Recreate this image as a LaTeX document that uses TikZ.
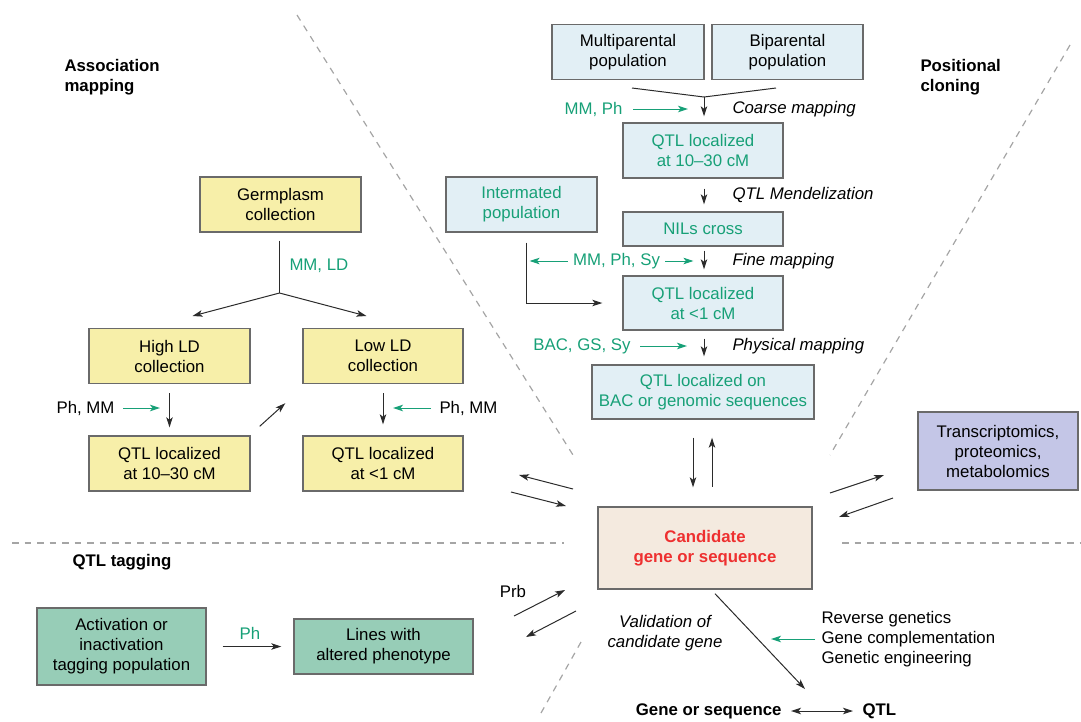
\documentclass[tikz,border=0pt]{standalone}
\usepackage{fontspec}
\setmainfont{Liberation Sans}
\usetikzlibrary{arrows.meta}

\definecolor{bluefill}{HTML}{E2EFF5}
\definecolor{yelfill}{HTML}{F7EFA9}
\definecolor{lilfill}{HTML}{C4C6E7}
\definecolor{candfill}{HTML}{F4EADF}
\definecolor{tagfill}{HTML}{97CDB7}
\definecolor{mgreen}{HTML}{17A077}
\definecolor{candred}{HTML}{EE3030}
\definecolor{boxline}{HTML}{6A6A6A}
\definecolor{arr}{HTML}{2B2B2B}
\definecolor{sepgray}{HTML}{A5A5A5}
\newcommand{\fs}{\fontsize{16.8}{20}\selectfont}

\tikzset{
  box/.style={draw=boxline, line width=1.4pt, align=center, inner sep=0pt, font=\fs},
  bbox/.style={box, fill=bluefill},
  ybox/.style={box, fill=yelfill, minimum width=161pt, minimum height=55pt},
  lbl/.style={inner sep=0pt, font=\fs},
  glbl/.style={lbl, text=mgreen},
  ilbl/.style={lbl, font=\fs\itshape},
  hd/.style={lbl, font=\fs\bfseries, align=left},
  sepline/.style={draw=sepgray, line width=1.2pt, dash pattern=on 6.5pt off 6pt},
  garrow/.style={->, draw=mgreen},
}

\begin{document}
\begin{tikzpicture}[x=1pt,y=-1pt,>={Stealth[length=10pt,width=6.5pt,inset=2.5pt]},line width=1pt,draw=arr]
    \useasboundingbox (0,0) rectangle (1081,721);

    % dashed separators
    \draw[sepline](297,15)--(573,455);
    \draw[sepline](1070,45)--(830,455);
    \draw[sepline](12,543)--(564,543);
    \draw[sepline](842,543)--(1081,543);
    \draw[sepline](581,642)--(541,713);

    % headings
    \node[hd,anchor=west](hAssoc) at (64,77){Association\\mapping};
    \node[hd,anchor=west](hPos) at (920,77){Positional\\cloning};
    \node[hd,anchor=west](hTag) at (72,562){QTL tagging};

    % positional cloning
    \node[bbox,minimum width=152pt,minimum height=55pt](multi) at (628,52){Multiparental\\population};
    \node[bbox,minimum width=151pt,minimum height=55pt](bipar) at (787.5,52){Biparental\\population};
    \node[bbox,text=mgreen,minimum width=160pt,minimum height=55pt](qtlA) at (703,150.5){QTL localized\\at 10--30 cM};
    \node[bbox,text=mgreen,minimum width=151pt,minimum height=55pt](inter) at (521.5,204.5){Intermated\\population};
    \node[bbox,text=mgreen,minimum width=160pt,minimum height=34pt](nils) at (703,229){NILs cross};
    \node[bbox,text=mgreen,minimum width=160pt,minimum height=54pt](qtlB) at (703,303){QTL localized\\at <1 cM};
    \node[bbox,text=mgreen,minimum width=222pt,minimum height=54pt](bac) at (703,392){QTL localized on\\BAC or genomic sequences};

    \coordinate(mjoin) at (704,97);
    \draw(632,88)--(mjoin)--(776,88);
    \draw[->,shorten >=6pt](mjoin)--(mjoin|-qtlA.north);
    \node[glbl,anchor=east](gCoarse) at (623,109){MM, Ph};
    \draw[garrow]([xshift=10pt]gCoarse.east)--++(55,0);
    \node[ilbl,anchor=west](lCoarse) at (732,109){Coarse mapping};

    \draw[->,shorten <=10pt,shorten >=7pt]([xshift=1pt]qtlA.south)--([xshift=1pt]nils.north);
    \node[ilbl,anchor=west](lMend) at (732,195){QTL Mendelization};

    \draw[->,shorten <=4pt,shorten >=6pt]([xshift=1pt]nils.south)--([xshift=1pt]qtlB.north);
    \node[glbl](gFine) at (616.5,261){MM, Ph, Sy};
    \draw[garrow]([xshift=5pt]gFine.east)--++(28,0);
    \draw[garrow]([xshift=-5pt]gFine.west)--++(-38,0);
    \node[ilbl,anchor=west](lFine) at (732,261){Fine mapping};
    \draw[->]([xshift=4.5pt,yshift=-10pt]inter.south)|-([xshift=-20pt]qtlB.west);

    \draw[->,shorten <=8pt,shorten >=8pt]([xshift=1pt]qtlB.south)--([xshift=1pt]bac.north);
    \node[glbl,anchor=east](gPhys) at (631,346){BAC, GS, Sy};
    \draw[garrow]([xshift=9pt]gPhys.east)--++(47,0);
    \node[ilbl,anchor=west](lPhys) at (732,346){Physical mapping};

    % association mapping
    \node[ybox](germ) at (280.5,204.5){Germplasm\\collection};
    \node[ybox](high) at (169.5,356){High LD\\collection};
    \node[ybox,minimum width=160pt](low) at (383,356){Low LD\\collection};
    \node[ybox](qtlC) at (169.5,463.5){QTL localized\\at 10--30 cM};
    \node[ybox,minimum width=160pt](qtlD) at (383,463.5){QTL localized\\at <1 cM};

    \coordinate(split) at (279.5,293);
    \draw([xshift=-1pt,yshift=-8pt]germ.south)--(split);
    \draw[->](split)--++(-87,23);
    \draw[->](split)--++(87,23);
    \node[glbl,anchor=west](gLD) at (289,266){MM, LD};

    \draw[->,shorten <=9pt,shorten >=8pt](high)--(qtlC);
    \node[lbl,anchor=east](phL) at (115,408){Ph, MM};
    \draw[garrow]([xshift=8pt]phL.east)--++(37,0);
    \draw[->,shorten <=9pt,shorten >=11pt](low)--(qtlD);
    \node[lbl,anchor=west](phR) at (439,408){Ph, MM};
    \draw[garrow]([xshift=-8pt]phR.west)--++(-38,0);
    \draw[->]([xshift=9pt,yshift=9pt]qtlC.north east)--([xshift=-17pt,yshift=-19pt]low.south west);

    % candidate and omics
    \node[box,fill=candfill,text=candred,font=\fs\bfseries,minimum width=214pt,minimum height=82pt](cand) at (705,548){Candidate\\gene or sequence};
    \node[box,fill=lilfill,minimum width=160pt,minimum height=78pt](omics) at (998,451){Transcriptomics,\\proteomics,\\metabolomics};

    \draw[->,shorten <=18pt,shorten >=19pt]([xshift=-10pt]bac.south)--([xshift=-12pt]cand.north);
    \draw[<-,shorten <=18pt,shorten >=19pt]([xshift=9pt]bac.south)--([xshift=7pt]cand.north);

    \coordinate(aL1) at (573,489); \coordinate(aL2) at (519,475);
    \coordinate(aL3) at (511,492); \coordinate(aL4) at (566,506);
    \draw[->](aL1)--(aL2);
    \draw[->](aL3)--(aL4);
    \coordinate(aR1) at (830,493); \coordinate(aR2) at (884,475);
    \coordinate(aR3) at (893,498); \coordinate(aR4) at (839,517);
    \draw[->](aR1)--(aR2);
    \draw[->](aR3)--(aR4);

    % QTL tagging
    \node[box,fill=tagfill,minimum width=169pt,minimum height=77pt](activ) at (121.5,646.5){Activation or\\inactivation\\tagging population};
    \node[box,fill=tagfill,minimum width=179pt,minimum height=55pt](lines) at (383.5,646.5){Lines with\\altered phenotype};
    \draw[->,shorten <=16pt,shorten >=12pt](activ)--(lines)node(gPh)[midway,above=3pt,text=mgreen,font=\fs]{Ph};

    \node[lbl](prb) at (513,591){Prb};
    \coordinate(aP1) at (514,616); \coordinate(aP2) at (565,590);
    \coordinate(aP3) at (576,611); \coordinate(aP4) at (526,637);
    \draw[->](aP1)--(aP2);
    \draw[->](aP3)--(aP4);

    % validation
    \node[ilbl,align=center](valid) at (665,633){Validation of\\candidate gene};
    \node[lbl,anchor=west,align=left](meth) at (821,639){Reverse genetics\\Gene complementation\\Genetic engineering};
    \draw[garrow]([xshift=-6pt]meth.west)--++(-44,0);
    \coordinate(vEnd) at (805,689);
    \draw[->]([xshift=10pt,yshift=-4pt]cand.south)--(vEnd);
    \node[lbl,font=\fs\bfseries,anchor=east](geneq) at (782,711){Gene or sequence};
    \node[lbl,font=\fs\bfseries,anchor=west](qtlE) at (862,711){QTL};
    \draw[<->]([xshift=9pt]geneq.east)--([xshift=-9pt]qtlE.west);
\end{tikzpicture}
\end{document}
